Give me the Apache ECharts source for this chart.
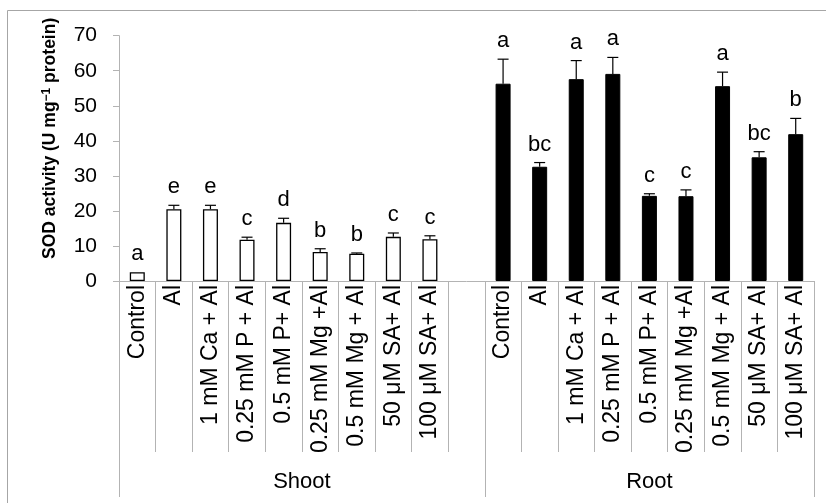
<!DOCTYPE html>
<html>
<head>
<meta charset="utf-8">
<script src="https://cdn.jsdelivr.net/npm/echarts@6/dist/echarts.min.js"></script>
<style>
html,body{margin:0;padding:0;background:#fff;}
#chart{width:826px;height:503px;}
</style>
</head>
<body>
<div id="chart"></div>
<script>
// ---- data ----
const treatments = ['Control', 'Al', '1 mM Ca + Al', '0.25 mM P + Al', '0.5 mM P+ Al', '0.25 mM Mg +Al', '0.5 mM Mg + Al', '50 μM SA+ Al', '100 μM SA+ Al'];
const groups = ['Shoot', 'Root'];
const shootValues = [2.5, 20.5, 20.5, 11.8, 16.6, 8.3, 7.8, 12.6, 11.9];
const shootErrors = [0, 1.1, 1.1, 0.7, 1.3, 0.9, 0.2, 1.1, 1.0];
const shootLetters = ['a', 'e', 'e', 'c', 'd', 'b', 'b', 'c', 'c'];
const rootValues = [56.3, 32.6, 57.6, 59.1, 24.3, 24.2, 55.6, 35.3, 41.9];
const rootErrors = [7.0, 1.2, 5.3, 4.7, 0.6, 1.8, 4.0, 1.6, 4.5];
const rootLetters = ['a', 'bc', 'a', 'a', 'c', 'c', 'a', 'bc', 'b'];
const yMin = 0, yMax = 70, yStep = 10;
const yTitle = ['SOD activity (U mg', '−1', ' protein)'];

// ---- build ----
const FONT = "'Liberation Sans', Arial, Helvetica, sans-serif";
const nS = treatments.length;
const categories = treatments.concat(['']).concat(treatments);
const nCat = categories.length;
const shootBar = [], rootBar = [];
for (let i = 0; i < nCat; i++) {
  shootBar.push(i < nS ? shootValues[i] : '-');
  rootBar.push(i > nS ? rootValues[i - nS - 1] : '-');
}
const errData = [], errLetters = [];
for (let i = 0; i < nS; i++) { errData.push([i, shootValues[i], shootErrors[i]]); errLetters.push(shootLetters[i]); }
for (let i = 0; i < nS; i++) { errData.push([i + nS + 1, rootValues[i], rootErrors[i]]); errLetters.push(rootLetters[i]); }
const groupStart = [0, nS + 1];
const groupEnd = [nS + 1, nCat];
const groupCenters = [(groupStart[0] + groupEnd[0]) / 2, (groupStart[1] + groupEnd[1]) / 2];

const chart = echarts.init(document.getElementById('chart'), null, {renderer: 'canvas'});
const AXIS = '#b3b3b3';
chart.setOption({
  animation: false,
  backgroundColor: '#fff',
  graphic: [{
    type: 'rect', z: -1, silent: true,
    shape: {x: 7.5, y: 10.5, width: 900, height: 600},
    style: {fill: 'none', stroke: '#a6a6a6', lineWidth: 1}
  }],
  grid: {left: 119, right: 12, top: 35.7, bottom: 222, containLabel: false},
  xAxis: [{
    type: 'category',
    data: categories,
    axisLine: {lineStyle: {color: AXIS}},
    axisTick: {show: true, interval: 0, length: 171, lineStyle: {color: AXIS}},
    axisLabel: {interval: 0, rotate: 90, margin: 4, fontSize: 23, color: '#000', fontFamily: FONT}
  }, {
    type: 'value',
    min: 0, max: nCat,
    position: 'bottom',
    axisLine: {show: false},
    splitLine: {show: false},
    axisTick: {show: true, length: 216, customValues: groupStart.concat([nCat]), lineStyle: {color: AXIS}},
    axisLabel: {
      customValues: groupCenters, margin: 190, fontSize: 22, color: '#000', fontFamily: FONT,
      formatter: function (v) { return v === groupCenters[0] ? groups[0] : groups[1]; }
    }
  }],
  yAxis: {
    type: 'value', min: yMin, max: yMax, interval: yStep,
    axisLine: {show: true, lineStyle: {color: AXIS}},
    axisTick: {show: true, length: 6, lineStyle: {color: AXIS}},
    splitLine: {show: false},
    axisLabel: {fontSize: 21, color: '#000', margin: 22, fontFamily: FONT},
    name: '{t|' + yTitle[0] + '}{s|' + yTitle[1] + '}{t|' + yTitle[2] + '}',
    nameLocation: 'middle',
    nameRotate: 90,
    nameGap: 60,
    nameTextStyle: {
      padding: [0, 0, 0, 40],
      rich: {
        t: {fontSize: 17.5, fontWeight: 'bold', color: '#000', fontFamily: FONT},
        s: {fontSize: 12, fontWeight: 'bold', color: '#000', fontFamily: FONT, verticalAlign: 'top'}
      }
    }
  },
  series: [{
    type: 'bar', name: 'Shoot', data: shootBar, barWidth: 15, barGap: '-100%',
    itemStyle: {color: '#fff', borderColor: '#000', borderWidth: 1.3}
  }, {
    type: 'bar', name: 'Root', data: rootBar, barWidth: 15, barGap: '-100%',
    itemStyle: {color: '#000', borderColor: '#000', borderWidth: 1}
  }, {
    type: 'custom', name: 'err', data: errData, z: 10, clip: false,
    renderItem: function (params, api) {
      const idx = api.value(0), v = api.value(1), e = api.value(2);
      const base = api.coord([idx, v]);
      const top = api.coord([idx, v + e]);
      const hw = 5.5;
      const children = [];
      if (e > 0) {
        children.push({type: 'line', shape: {x1: base[0], y1: base[1], x2: top[0], y2: top[1]}, style: {stroke: '#000', lineWidth: 1.2}});
        children.push({type: 'line', shape: {x1: top[0] - hw, y1: top[1], x2: top[0] + hw, y2: top[1]}, style: {stroke: '#000', lineWidth: 1.2}});
      }
      children.push({type: 'text', style: {text: errLetters[params.dataIndex], x: top[0], y: top[1] - 7, align: 'center', verticalAlign: 'bottom', font: '22px ' + FONT, fill: '#000'}});
      return {type: 'group', children: children};
    }
  }]
});
</script>
</body>
</html>
